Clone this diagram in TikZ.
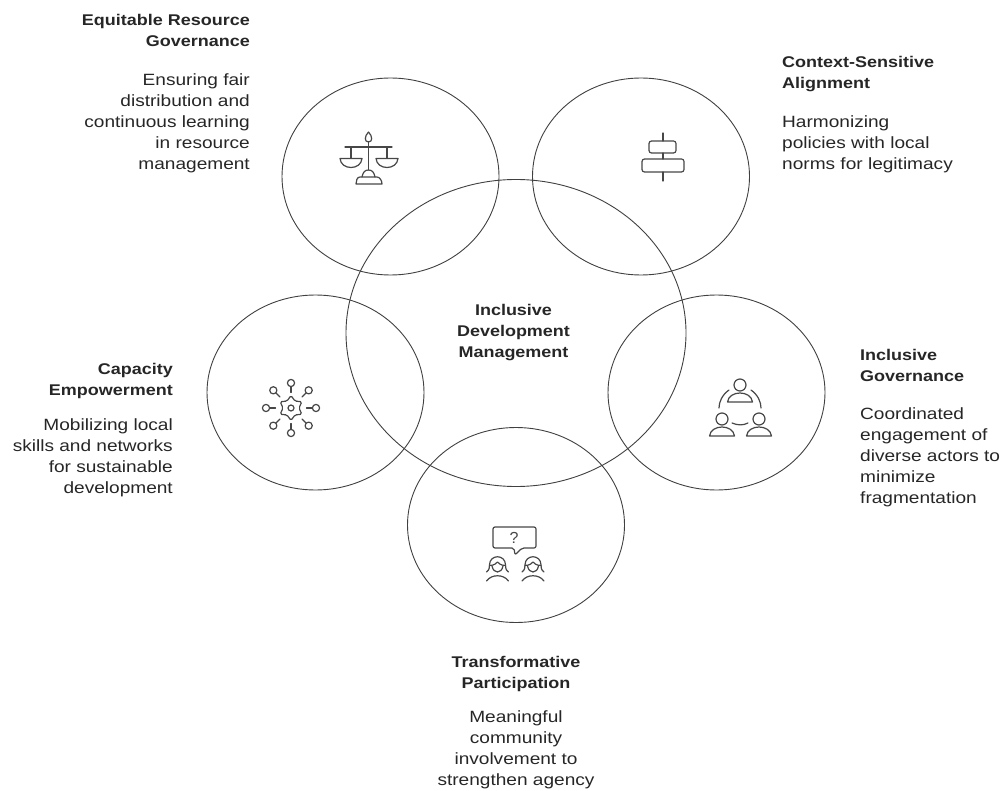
\documentclass[tikz,border=0pt]{standalone}
\usepackage{fontspec}
\setmainfont{Liberation Sans}
\newfontfamily\bodyf[FakeStretch=1.17]{Liberation Sans}
\newfontfamily\headf[FakeStretch=1.16]{Liberation Sans Bold}
\usetikzlibrary{calc,shapes.geometric}
\newcommand{\hd}[1]{{\headf\fontsize{15.5}{21}\selectfont #1}}
\newcommand{\bd}[1]{{\bodyf\fontsize{16.3}{21}\selectfont #1}}
\tikzset{
 x=1pt,y=-1pt,
 ring/.style={draw=black!75,line width=0.9pt,ellipse,inner sep=0pt},
 ic/.style={draw=black!72,line width=1.2pt,line cap=round,line join=round},
 txt/.style={font=\fontsize{16}{21}\selectfont,text=black!85,inner sep=0pt},
 tl/.style={txt,anchor=north west,align=left},
 tr/.style={txt,anchor=north east,align=right},
 tc/.style={txt,anchor=north,align=center},
}
\newcommand{\person}[2]{%
 \draw[ic] (#1,#2) circle[radius=6];
 \draw[ic] (#1-12.5,#2+17) .. controls (#1-11,#2+5) and (#1+11,#2+5) .. (#1+12.5,#2+17) -- cycle;
}
\newcommand{\girl}[2]{%
 \draw[ic] (#1-11,#2+7) .. controls (#1-8,#2+5) and (#1-8,#2+2) .. (#1-8,#2)  .. controls (#1-8,#2-11) and (#1+8,#2-11) .. (#1+8,#2) .. controls (#1+8,#2+2) and (#1+8,#2+5) .. (#1+11,#2+7);
 \draw[ic] (#1-8,#2+0.5) .. controls (#1-3,#2+0.5) and (#1-1,#2-2) .. (#1,#2-3) .. controls (#1+1,#2-2) and (#1+3,#2+0.5) .. (#1+8,#2+0.5);
 \draw[ic] (#1-5.5,#2+1) .. controls (#1-4,#2+9) and (#1+4,#2+9) .. (#1+5.5,#2+1);
 \draw[ic] (#1-11,#2+16) .. controls (#1-6,#2+9) and (#1+6,#2+9) .. (#1+11,#2+16);
}
\begin{document}
\begin{tikzpicture}
\useasboundingbox (0,0) rectangle (1006,791);
% circles
\node[ring,minimum width=340pt,minimum height=307pt] (main) at (516,333) {};
\node[ring,minimum width=217pt,minimum height=197pt] (c1) at (390.5,176.5) {};
\node[ring,minimum width=217pt,minimum height=197pt] (c2) at (641,176.5) {};
\node[ring,minimum width=217pt,minimum height=195pt] (c3) at (315.5,392.5) {};
\node[ring,minimum width=217pt,minimum height=195pt] (c4) at (716.5,392.5) {};
\node[ring,minimum width=217pt,minimum height=195pt] (c5) at (516,525) {};
% centre text
\node[txt,align=center] (mt) at (513.5,333) {\hd{Inclusive}\\\hd{Development}\\\hd{Management}};
% labels
\node[tr] (t1) at (250,14) {\hd{Equitable Resource}\\\hd{Governance}\\[18pt]\bd{Ensuring fair}\\\bd{distribution and}\\\bd{continuous learning}\\\bd{in resource}\\\bd{management}};
\node[tl] (t2) at (782,56) {\hd{Context-Sensitive}\\\hd{Alignment}\\[18pt]\bd{Harmonizing}\\\bd{policies with local}\\\bd{norms for legitimacy}};
\node[tr] (t3) at (173,363) {\hd{Capacity}\\\hd{Empowerment}\\[14pt]\bd{Mobilizing local}\\\bd{skills and networks}\\\bd{for sustainable}\\\bd{development}};
\node[tl] (t4) at (860,349) {\hd{Inclusive}\\\hd{Governance}\\[17pt]\bd{Coordinated}\\\bd{engagement of}\\\bd{diverse actors to}\\\bd{minimize}\\\bd{fragmentation}};
\node[tc] (t5) at (516,656) {\hd{Transformative}\\\hd{Participation}\\[13pt]\bd{Meaningful}\\\bd{community}\\\bd{involvement to}\\\bd{strengthen agency}};
% scales icon
\draw[ic] (345,147) -- (392,147);
\draw[ic] (368.5,142) -- (368.5,170);
\draw[ic] (368.5,132) .. controls (364.5,136) and (364,142) .. (368.5,142) .. controls (373,142) and (372.5,136) .. (368.5,132) -- cycle;
\draw[ic] (351,147) -- (351,158);
\draw[ic] (387,147) -- (387,158);
\draw[ic] (340,158.5) -- (362,158.5) .. controls (361,170.5) and (341,170.5) .. (340,158.5) -- cycle;
\draw[ic] (376,158.5) -- (398,158.5) .. controls (397,170.5) and (377,170.5) .. (376,158.5) -- cycle;
\draw[ic] (362,177) .. controls (363,172) and (365,170) .. (368.5,170) .. controls (372,170) and (374,172) .. (375,177);
\draw[ic] (360,177) -- (377,177) .. controls (380,177) and (382,181) .. (382,184) -- (356,184) .. controls (356,181) and (357,177) .. (360,177) -- cycle;
% alignment icon
\draw[ic] (663,133) -- (663,141);
\draw[ic,rounded corners=2.5pt] (649,141) rectangle (676,153);
\draw[ic] (663,153) -- (663,159);
\draw[ic,rounded corners=2.5pt] (642,159) rectangle (684,172);
\draw[ic] (663,172) -- (663,181);
% network icon
\coordinate (g) at (291,408);
\draw[ic,rounded corners=1.5pt] ($(g)+(90:12.5)$) -- ($(g)+(60:8)$) -- ($(g)+(30:12.5)$) -- ($(g)+(0:8)$) -- ($(g)+(-30:12.5)$) -- ($(g)+(-60:8)$) -- ($(g)+(-90:12.5)$) -- ($(g)+(-120:8)$) -- ($(g)+(-150:12.5)$) -- ($(g)+(180:8)$) -- ($(g)+(150:12.5)$) -- ($(g)+(120:8)$) -- cycle;
\draw[ic] (g) circle[radius=3];
\foreach \a in {0,45,...,315}{
 \draw[ic] ($(g)+(\a:15.5)$) -- ($(g)+(\a:21)$);
 \draw[ic] ($(g)+(\a:25)$) circle[radius=3.6];
}
% people icon
\person{740}{385}
\person{722}{419}
\person{759}{419}
\draw[ic] (729,390) .. controls (722,395) and (719,402) .. (719,408);
\draw[ic] (751,390) .. controls (758,395) and (761,402) .. (761,408);
\draw[ic] (732,423) .. controls (738,425.5) and (743,425.5) .. (748,423);
% question icon
\draw[ic,rounded corners=2pt] (493,527) -- (536,527) -- (536,548) -- (522,548) -- (515,555) -- (514,548) -- (493,548) -- cycle;
\node[inner sep=0pt,font=\fontsize{16}{16}\selectfont,text=black!72] (q) at (514,538) {?};
\girl{497.5}{565}
\girl{533}{565}
\end{tikzpicture}
\end{document}
